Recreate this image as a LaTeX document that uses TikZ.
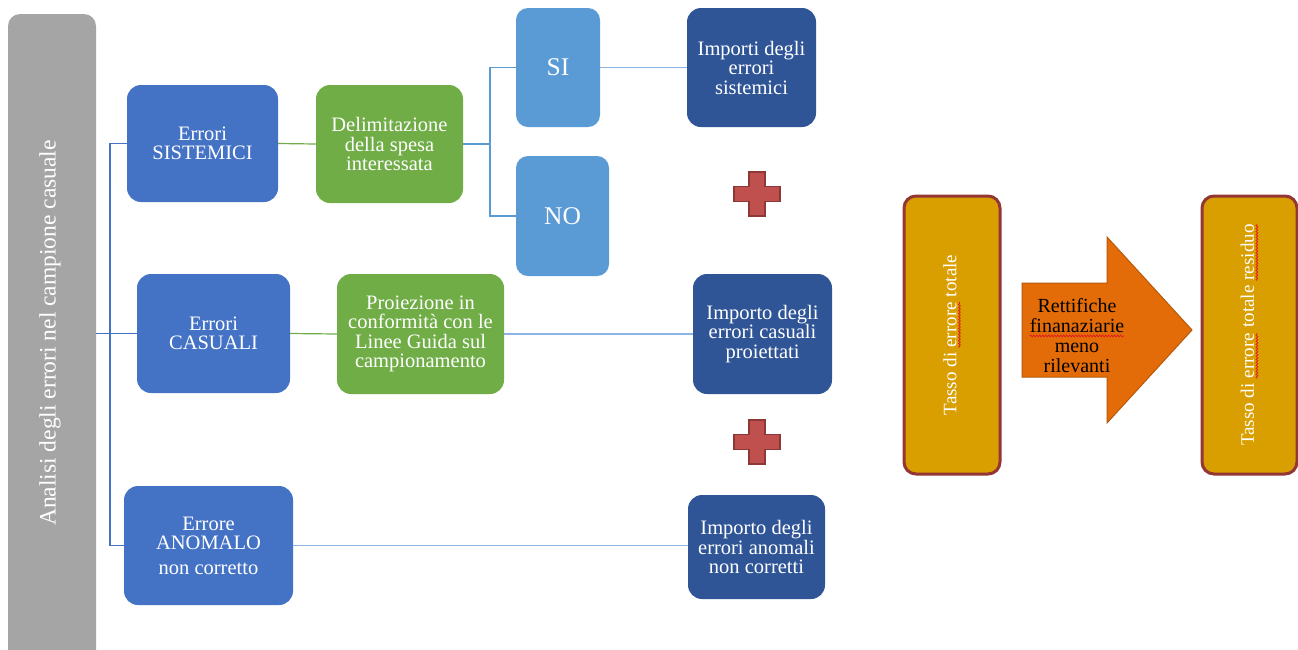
\documentclass[tikz,border=0pt]{standalone}
\usepackage{fontspec}
\setmainfont{Liberation Serif}
\usepackage{graphicx}
\usetikzlibrary{decorations.pathmorphing}
\definecolor{barGray}{HTML}{A5A5A5}
\definecolor{boxBlue}{HTML}{4472C4}
\definecolor{boxGreen}{HTML}{70AD47}
\definecolor{boxSky}{HTML}{5B9BD5}
\definecolor{boxNavy}{HTML}{2F5597}
\definecolor{lineBlue}{HTML}{4472C4}
\definecolor{linePale}{HTML}{8EB4E3}
\definecolor{tassoFill}{HTML}{D99E00}
\definecolor{tassoEdge}{HTML}{943634}
\definecolor{arrowFill}{HTML}{E36C09}
\definecolor{arrowEdge}{HTML}{B65A0C}
\definecolor{plusFill}{HTML}{C0504D}
\definecolor{plusEdge}{HTML}{8C3836}
\definecolor{wavyRed}{HTML}{E02020}
\newcommand\wavy[1]{\tikz[baseline=(wv.base),x=1pt,y=1pt]{\node[inner sep=0pt,outer sep=0pt,minimum width=0pt,minimum height=0pt,draw=none,fill=none,rounded corners=0pt,rotate=0,anchor=base](wv){#1};\draw[draw=wavyRed,fill=none,rounded corners=0pt,line width=0.8pt,decorate,decoration={snake,amplitude=0.9pt,segment length=3pt}]([yshift=-3pt]wv.base west)--([yshift=-3pt]wv.base east);}}
\begin{document}
\begin{tikzpicture}[x=1pt,y=-1pt,
  box/.style={rounded corners=14pt,text=white,align=center,inner sep=2pt,
    font=\fontsize{20.5}{19.5}\selectfont},
  treeline/.style={draw=lineBlue,line width=1.2pt},
  greenline/.style={draw=boxGreen,line width=1.2pt},
  skyline/.style={draw=boxSky,line width=1.4pt},
  paleline/.style={draw=linePale,line width=1.6pt},
  tasso/.style={rounded corners=12pt,fill=tassoFill,draw=tassoEdge,line width=3pt,
    text=white,inner sep=0pt,minimum width=96,minimum height=278,
    font=\fontsize{19}{20}\selectfont},
  plusshape/.style={fill=plusFill,draw=plusEdge,line width=1.5pt}]
\clip (0,0) rectangle (1298,649);
\fill[white] (0,0) rectangle (1298,649);
% left bar
\node[fill=barGray,rounded corners=12pt,minimum width=88,minimum height=660,inner sep=0pt] (bar) at (52,344) {};
\node[text=white,inner sep=0pt,font=\fontsize{23.5}{24}\selectfont] (bartxt) at (50,333) {\rotatebox{90}{Analisi degli errori nel campione casuale}};
% first column
\node[box,fill=boxBlue,minimum width=151,minimum height=117] (sis) at (202.5,143.5) {Errori\\SISTEMICI};
\node[box,fill=boxBlue,minimum width=153,minimum height=119] (cas) at (213.5,333.5) {Errori\\CASUALI};
\node[box,fill=boxBlue,minimum width=169,minimum height=119] (ano) at (208.5,545.5) {Errore\\ANOMALO\\[5pt]non corretto};
% second column
\node[box,fill=boxGreen,minimum width=147,minimum height=118] (del) at (389.5,144) {Delimitazione\\della spesa\\interessata};
\node[box,fill=boxGreen,minimum width=167,minimum height=120] (pro) at (420.5,334) {Proiezione in\\conformità con le\\Linee Guida sul\\campionamento};
% SI / NO
\node[box,fill=boxSky,rounded corners=12pt,minimum width=84,minimum height=119,font=\fontsize{25.5}{26}\selectfont] (si) at (558,67.5) {SI};
\node[box,fill=boxSky,rounded corners=12pt,minimum width=93,minimum height=120,font=\fontsize{25.5}{26}\selectfont] (no) at (562.5,216) {NO};
% amounts
\node[box,fill=boxNavy,minimum width=129,minimum height=119] (isi) at (751.5,67.5) {Importi degli\\errori\\sistemici};
\node[box,fill=boxNavy,minimum width=139,minimum height=120] (ica) at (762.5,334) {Importo degli\\errori casuali\\proiettati};
\node[box,fill=boxNavy,minimum width=137,minimum height=104] (ian) at (756.5,547) {Importo degli\\errori anomali\\non corretti};
% plus signs
\foreach \py in {194,442}{
  \begin{scope}[shift={(757,\py)}]
    \filldraw[plusshape] (-8,-22) -- (8,-22) -- (8,-7.5) -- (23,-7.5) -- (23,7.5) -- (8,7.5) -- (8,22) -- (-8,22) -- (-8,7.5) -- (-23,7.5) -- (-23,-7.5) -- (-8,-7.5) -- cycle;
  \end{scope}}
% right part
\node[tasso] (t1) at (952,335) {\rotatebox{90}{Tasso di \wavy{errore} totale}};
\node[tasso,minimum width=95] (t2) at (1249.5,335) {\rotatebox{90}{Tasso di \wavy{errore} totale \wavy{residuo}}};
\filldraw[fill=arrowFill,draw=arrowEdge,line width=1pt] (1022,283) -- (1107,283) -- (1107,237) -- (1192,330) -- (1107,423) -- (1107,377) -- (1022,377) -- cycle;
\node[align=center,text=black,inner sep=0pt,font=\fontsize{20}{20}\selectfont] (rett) at (1077,336) {Rettifiche\\\wavy{finanaziarie}\\meno\\rilevanti};
% connectors
\coordinate (j) at (110,333);
\coordinate (k) at (490,144);
\draw[treeline] (bar.east |- cas.west) -- (cas.west);
\draw[treeline] (sis.west) -- (sis.west -| j) -- (ano.west -| j) -- (ano.west);
\draw[greenline] (sis.east) -- (del.west);
\draw[greenline] (cas.east) -- (pro.west);
\draw[skyline] (del.east) -- (k);
\draw[skyline] (si.west) -- (si.west -| k) -- (no.west -| k) -- (no.west);
\draw[paleline] (si.east) -- (isi.west);
\draw[paleline] (pro.east) -- (ica.west);
\draw[paleline] (ano.east) -- (ano.east -| ian.west);
\end{tikzpicture}
\end{document}
